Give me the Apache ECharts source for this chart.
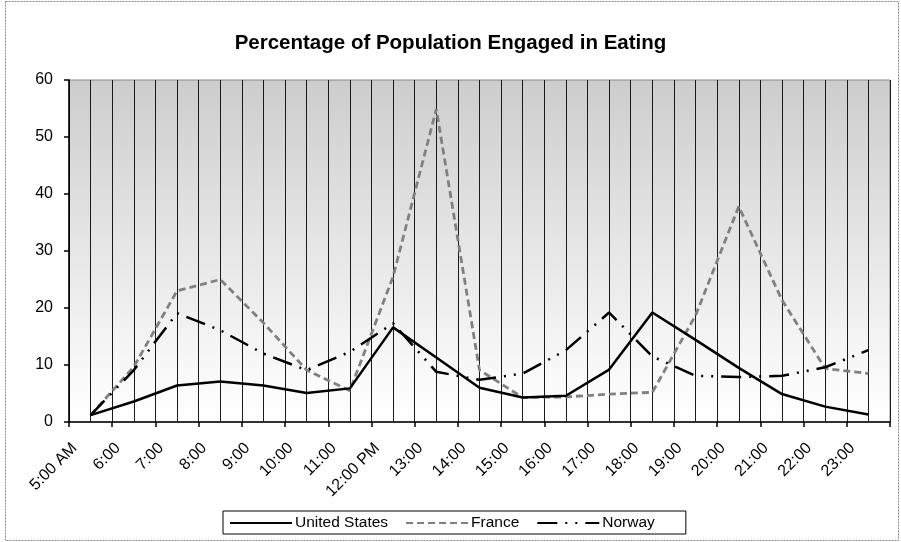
<!DOCTYPE html>
<html>
<head>
<meta charset="utf-8">
<script src="https://cdn.jsdelivr.net/npm/echarts@6/dist/echarts.min.js"></script>
<style>
  html, body { margin: 0; padding: 0; background: #fff; }
  #chart { width: 901px; height: 542px; }
</style>
</head>
<body>
<div id="chart"></div>
<script>
// Hour-of-day tick labels (one per hour boundary)
const hourLabels = ['5:00 AM', '6:00', '7:00', '8:00', '9:00', '10:00', '11:00', '12:00 PM',
  '13:00', '14:00', '15:00', '16:00', '17:00', '18:00', '19:00', '20:00', '21:00', '22:00', '23:00'];

// Percentage eating, sampled at the middle of each hour slot (5:30 ... 23:30)
const unitedStates = [1.2, 3.6, 6.4, 7.1, 6.4, 5.1, 5.9, 16.6, 11.3, 6.0, 4.3, 4.6, 9.2, 19.2, 14.4, 9.5, 4.9, 2.7, 1.3];
const france       = [1.2, 9.7, 23.0, 25.0, 17.4, 9.1, 5.5, 25.5, 54.9, 9.1, 4.3, 4.4, 4.9, 5.2, 18.7, 37.8, 21.4, 9.4, 8.5];
const norway       = [1.2, 9.1, 19.1, 16.1, 12.0, 9.1, 12.3, 17.3, 8.8, 7.4, 8.5, 12.6, 19.2, 11.5, 8.1, 7.9, 8.1, 9.6, 12.6];

const yTicks = [0, 10, 20, 30, 40, 50, 60];

// each value sits in the middle of its hour slot
const toPoints = arr => arr.map((v, i) => [i + 0.5, v]);

const FONT = "'Liberation Sans', Arial, sans-serif";

const chart = echarts.init(document.getElementById('chart'), null, { renderer: 'canvas' });

chart.setOption({
  backgroundColor: '#ffffff',
  animation: false,
  title: {
    text: 'Percentage of Population Engaged in Eating',
    left: 'center',
    top: 28,
    textStyle: { fontFamily: FONT, fontSize: 20.5, fontWeight: 'bold', color: '#000' }
  },
  legend: {
    bottom: 8,
    left: 223,
    itemWidth: 62,
    itemHeight: 10,
    itemGap: 17,
    padding: [4, 31, 3, 6],
    borderColor: '#000',
    borderWidth: 1,
    backgroundColor: '#fff',
    itemStyle: { color: 'rgba(0,0,0,0)', borderWidth: 0 },
    textStyle: { fontFamily: FONT, fontSize: 15.5, color: '#000', padding: [0, 0, 0, -2] },
    data: ['United States', 'France', 'Norway']
  },
  grid: {
    left: 69, right: 11, top: 80, bottom: 120,
    show: true,
    borderColor: '#8a8a8a',
    borderWidth: 1,
    backgroundColor: {
      type: 'linear', x: 0, y: 0, x2: 0, y2: 1,
      colorStops: [
        { offset: 0, color: '#cdcdcd' },
        { offset: 0.9, color: '#fbfbfb' },
        { offset: 1, color: '#ffffff' }
      ]
    }
  },
  xAxis: {
    type: 'value',
    min: 0,
    max: hourLabels.length,
    interval: 1,
    axisLine: { show: true, lineStyle: { color: '#000', width: 1.5 } },
    axisTick: { show: true, length: 5, lineStyle: { color: '#000', width: 1.5 } },
    minorTick: { show: false, splitNumber: 2 },
    splitLine: { show: true, lineStyle: { color: '#1a1a1a', width: 1 } },
    minorSplitLine: { show: true, lineStyle: { color: '#1a1a1a', width: 1 } },
    axisLabel: {
      rotate: 45,
      margin: 18,
      verticalAlign: 'top',
      fontFamily: FONT,
      fontSize: 16,
      color: '#000',
      formatter: v => (Number.isInteger(v) && v < hourLabels.length) ? hourLabels[v] : ''
    }
  },
  yAxis: {
    type: 'value',
    min: yTicks[0],
    max: yTicks[yTicks.length - 1],
    interval: 10,
    axisLine: { show: true, lineStyle: { color: '#000', width: 1.5 } },
    axisTick: { show: true, length: 5, lineStyle: { color: '#000', width: 1.5 } },
    splitLine: { show: false },
    axisLabel: { margin: 16, fontFamily: FONT, fontSize: 16, color: '#000' }
  },
  series: [
    {
      name: 'United States',
      type: 'line',
      symbol: 'none',
      data: toPoints(unitedStates),
      lineStyle: { color: '#000', width: 2.5, type: 'solid' },
      itemStyle: { color: '#000' },
      z: 4
    },
    {
      name: 'France',
      type: 'line',
      symbol: 'none',
      data: toPoints(france),
      lineStyle: { color: '#808080', width: 2.8, type: [7, 4] },
      itemStyle: { color: '#808080' },
      z: 3
    },
    {
      name: 'Norway',
      type: 'line',
      symbol: 'none',
      data: toPoints(norway),
      lineStyle: { color: '#000', width: 2.5, type: [20, 8, 2, 8, 2, 8] },
      itemStyle: { color: '#000' },
      z: 3
    }
  ],
  graphic: [
    {
      type: 'rect',
      silent: true,
      z: 100,
      shape: { x: 5.5, y: 1.5, width: 893, height: 539 },
      style: { fill: 'none', stroke: '#8c8c8c', lineWidth: 1, lineDash: [2, 1] }
    }
  ]
});
</script>
</body>
</html>
